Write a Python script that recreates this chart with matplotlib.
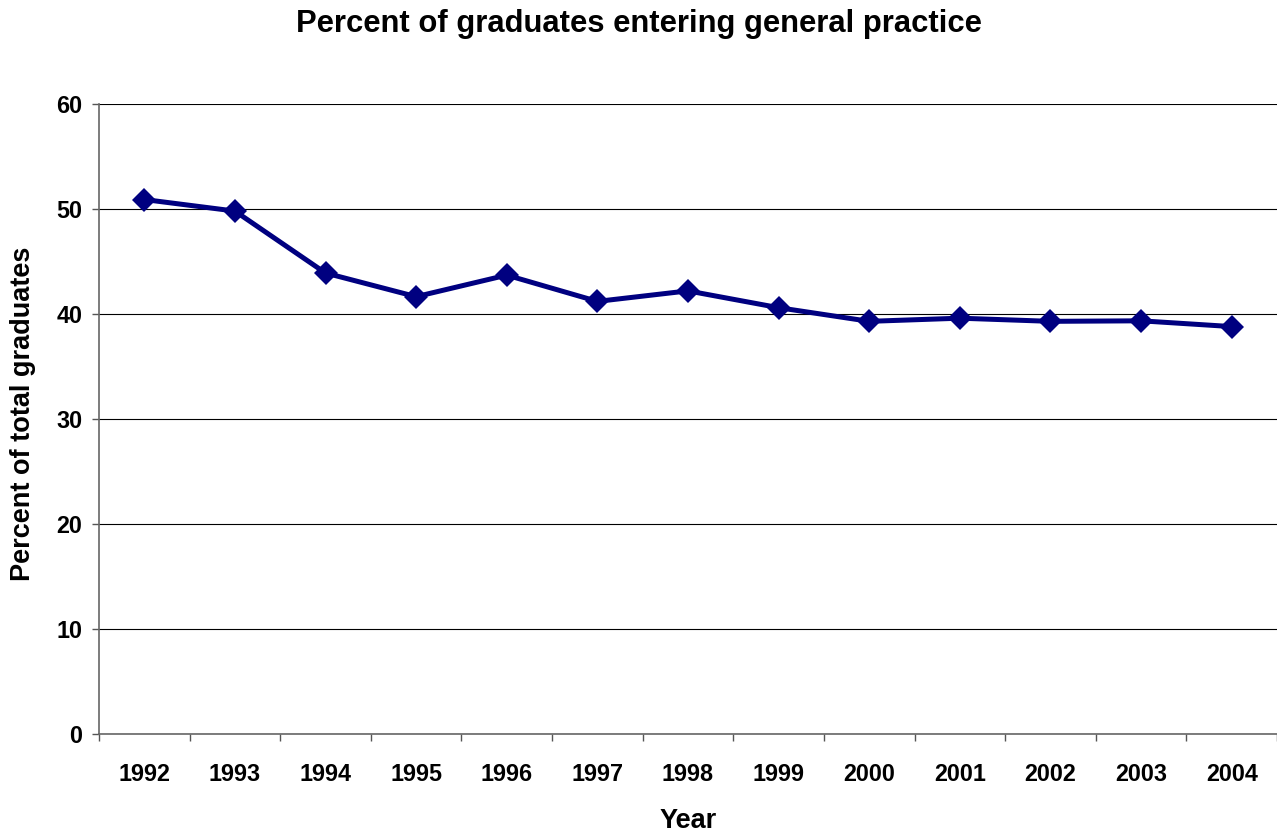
import numpy as np
import matplotlib.pyplot as plt

# -----------------------------
# DATA
# -----------------------------
years = ["1992", "1993", "1994", "1995", "1996", "1997", "1998",
         "1999", "2000", "2001", "2002", "2003", "2004"]
percent_gp = [50.9, 49.8, 43.9, 41.65, 43.7, 41.2, 42.2,
              40.6, 39.3, 39.6, 39.3, 39.35, 38.8]
y_ticks = [0, 10, 20, 30, 40, 50, 60]

plt.rcParams["font.family"] = ["Liberation Sans", "DejaVu Sans"]
plt.rcParams["font.weight"] = "bold"

fig = plt.figure(figsize=(12.77, 8.33), dpi=100)
ax = fig.add_axes([0.0775, 0.1188, 0.9225, 0.7564])

x = np.arange(len(years))
ax.plot(x, percent_gp, color="#000080", lw=3.6, marker="D", ms=12,
        markeredgewidth=0, zorder=3)

ax.set_xlim(-0.5, len(years) - 0.5)
ax.set_ylim(0, 60)
ax.set_yticks(y_ticks)
ax.set_yticklabels([str(v) for v in y_ticks])
ax.yaxis.grid(True, color="black", lw=0.8)
ax.set_axisbelow(True)

# category labels between boundary tick marks
ax.set_xticks(x)
ax.set_xticklabels(years)
ax.set_xticks(np.arange(-0.5, len(years)), minor=True)
ax.tick_params(axis="x", which="major", length=0, pad=21, labelsize=16.8)
ax.tick_params(axis="x", which="minor", length=5, width=1, color="#555555")
ax.tick_params(axis="y", length=5, width=1, color="#555555", pad=7, labelsize=16.8)

for s in ["top", "right"]:
    ax.spines[s].set_visible(False)
for s in ["left", "bottom"]:
    ax.spines[s].set_color("#666666")
    ax.spines[s].set_linewidth(1.2)

fig.text(0.5, 0.971, "Percent of graduates entering general practice",
         ha="center", va="center", fontsize=22.3, fontweight="bold")
fig.text(0.539, 0.015, "Year", ha="center", va="center",
         fontsize=19.5, fontweight="bold")
fig.text(0.018, 0.503, "Percent of total graduates", ha="center", va="center",
         rotation=90, fontsize=19.5, fontweight="bold")

fig.savefig("out.png", dpi=100)
